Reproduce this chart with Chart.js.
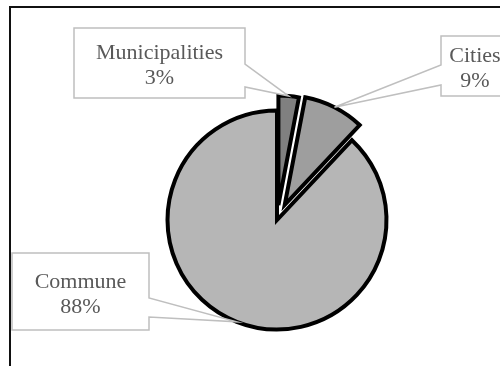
<!DOCTYPE html>
<html>
<head>
<meta charset="utf-8">
<script src="https://cdn.jsdelivr.net/npm/chart.js@4"></script>
<style>
  html, body { margin: 0; padding: 0; background: #fff; }
  #wrap { position: relative; width: 500px; height: 366px; }
</style>
</head>
<body>
<div id="wrap"><canvas id="grafico"></canvas></div>
<script>
// dados do gráfico
const categorias = ['Municipalities', 'Cities', 'Commune'];
const valores = [3, 9, 88];

const cores = ['#808080', '#9e9e9e', '#b6b6b6'];
const explosao = [15, 17, 0]; // deslocamento de cada fatia (px)

// caixas de rótulo: [x, y, largura, altura, lado da ponta, y1 da ponta, y2 da ponta]
const caixas = [
  [74, 28, 171, 70, 'right', 64, 87],
  [441, 36, 70, 60, 'left', 65, 85],
  [12, 253, 137, 77, 'right', 298, 317]
];

// moldura externa
const moldura = {
  id: 'moldura',
  beforeDraw(chart) {
    const ctx = chart.ctx;
    ctx.save();
    ctx.fillStyle = '#fff';
    ctx.fillRect(0, 0, chart.width, chart.height);
    ctx.strokeStyle = '#111';
    ctx.lineWidth = 2;
    ctx.strokeRect(10, 7, 600, 600);
    ctx.restore();
  }
};

// fatias destacadas, tipo Excel
const destacar = {
  id: 'destacar',
  beforeDatasetsDraw(chart) {
    const area = chart.chartArea;
    const cx = (area.left + area.right) / 2;
    const cy = (area.top + area.bottom) / 2;
    chart.getDatasetMeta(0).data.forEach((arc, i) => {
      const meio = (arc.startAngle + arc.endAngle) / 2;
      arc.x = cx + Math.cos(meio) * explosao[i];
      arc.y = cy + Math.sin(meio) * explosao[i];
    });
  }
};

// rótulos com balão
const rotulos = {
  id: 'rotulos',
  afterDatasetsDraw(chart) {
    const ctx = chart.ctx;
    const total = valores.reduce((a, b) => a + b, 0);
    chart.getDatasetMeta(0).data.forEach((arc, i) => {
      const [x, y, w, h, lado, p1, p2] = caixas[i];
      const meio = (arc.startAngle + arc.endAngle) / 2;
      const tx = arc.x + Math.cos(meio) * arc.outerRadius;
      const ty = arc.y + Math.sin(meio) * arc.outerRadius;

      ctx.save();
      ctx.beginPath();
      ctx.moveTo(x, y);
      ctx.lineTo(x + w, y);
      if (lado === 'right') {
        ctx.lineTo(x + w, p1);
        ctx.lineTo(tx, ty);
        ctx.lineTo(x + w, p2);
      }
      ctx.lineTo(x + w, y + h);
      ctx.lineTo(x, y + h);
      if (lado === 'left') {
        ctx.lineTo(x, p2);
        ctx.lineTo(tx, ty);
        ctx.lineTo(x, p1);
      }
      ctx.closePath();
      ctx.fillStyle = '#fff';
      ctx.fill();
      ctx.strokeStyle = '#bfbfbf';
      ctx.lineWidth = 1.5;
      ctx.stroke();

      ctx.fillStyle = '#595959';
      ctx.font = '22px "Liberation Serif", "Times New Roman", serif';
      ctx.textAlign = 'center';
      ctx.textBaseline = 'alphabetic';
      const pct = Math.round(valores[i] / total * 100) + '%';
      const xc = x + w / 2 - (lado === 'left' ? 1 : 0);
      const yc = y + h / 2;
      ctx.fillText(categorias[i], xc, yc - 4);
      ctx.fillText(pct, xc, yc + 21);
      ctx.restore();
    });
  }
};

const ctx = document.getElementById('grafico').getContext('2d');
const grafico = new Chart(ctx, {
  type: 'pie',
  data: {
    labels: categorias,
    datasets: [{
      data: valores,
      backgroundColor: cores,
      borderColor: '#000',
      borderWidth: 4,
      borderJoinStyle: 'miter'
    }]
  },
  options: {
    responsive: true,
    maintainAspectRatio: false,
    animation: false,
    events: [],
    radius: 109.5,
    layout: { padding: { left: 54, right: 0, top: 74, bottom: 0 } },
    plugins: {
      legend: { display: false },
      tooltip: { enabled: false }
    }
  },
  plugins: [moldura, destacar, rotulos]
});
</script>
</body>
</html>
